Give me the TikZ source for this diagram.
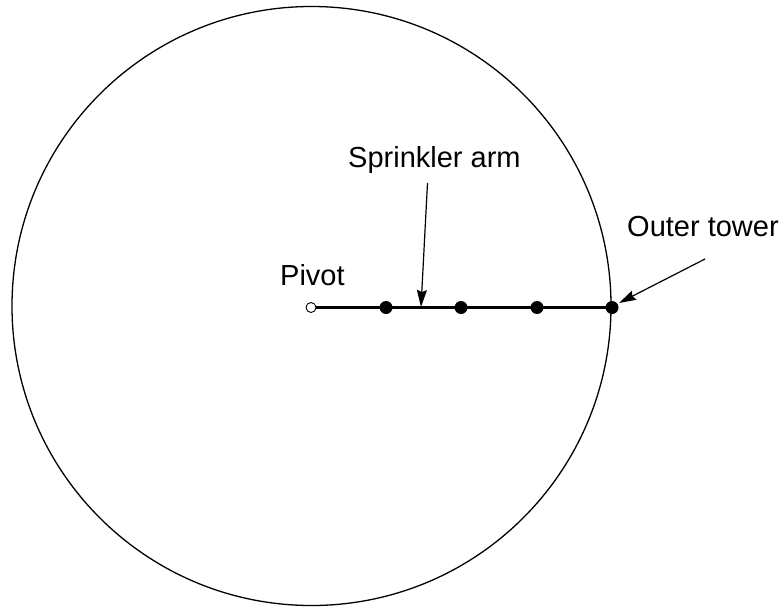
\documentclass[tikz,border=0pt]{standalone}
\usepackage{fontspec}
\setmainfont{Liberation Sans}
\usetikzlibrary{arrows.meta}
\begin{document}
\begin{tikzpicture}[x=1pt,y=-1pt,
  lbl/.style={inner sep=0pt,anchor=base west,font=\fontsize{29}{34}\selectfont},
  tower/.style={circle,fill=black,inner sep=0pt,minimum size=13pt},
  pivotc/.style={circle,draw=black,line width=0.9pt,fill=white,inner sep=0pt,minimum size=10pt},
  callout/.style={line width=1.2pt,-{Stealth[length=17pt,width=10pt,inset=2pt]}}]
\useasboundingbox (0,0) rectangle (783,607);
\node[draw=black,line width=1.3pt,circle,inner sep=0pt,minimum size=599pt] (field) at (311.5,306) {};
\node[pivotc] (pivot) at (311,307.5) {};
\node[tower] (t1) at (386,307.5) {};
\node[tower] (t2) at (461,307.5) {};
\node[tower] (t3) at (537,307.5) {};
\node[tower] (t4) at (612,307.5) {};
\draw[line width=2.3pt] (pivot.east) -- (t4.center);
\node[lbl] (pivotlbl) at (280,285) {Pivot};
\node[lbl] (armlbl) at (348,167) {Sprinkler arm};
\node[lbl] (outerlbl) at (627,236) {Outer tower};
\coordinate (armfrom) at (427.5,183);
\coordinate (armto) at (421,307);
\coordinate (outfrom) at (705,259);
\coordinate (outto) at (619,303);
\draw[callout] (armfrom) -- (armto);
\draw[callout] (outfrom) -- (outto);
\end{tikzpicture}
\end{document}
